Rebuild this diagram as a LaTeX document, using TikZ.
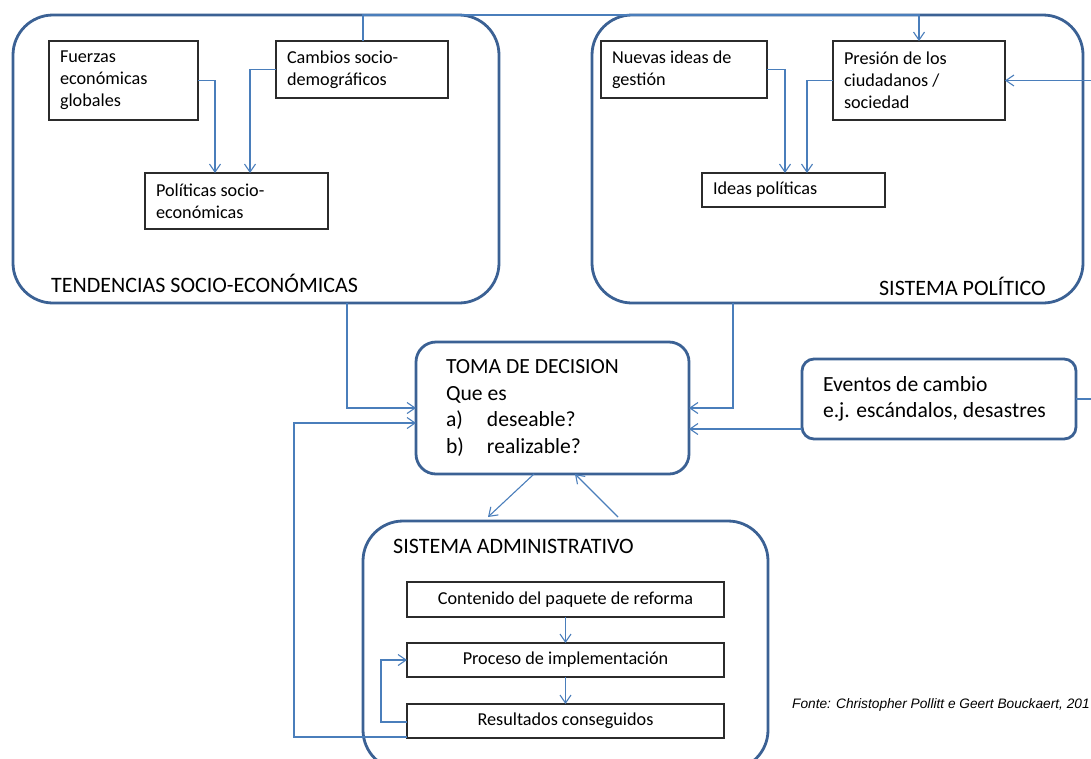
\documentclass[tikz,border=0pt]{standalone}
\usepackage{fontspec}
\setmainfont{Carlito}
\newfontfamily\notefont{Liberation Sans}
\usetikzlibrary{arrows.meta}

\definecolor{frameblue}{HTML}{3B6194}
\definecolor{linkblue}{HTML}{4A7EBB}
\definecolor{boxgray}{HTML}{2B2B2B}

\begin{document}
\begin{tikzpicture}[x=1pt,y=-1pt,
  group/.style={draw=frameblue,line width=2.8pt,rounded corners=40pt,
    anchor=north west,inner sep=0pt,outer sep=0pt},
  itembox/.style={draw=boxgray,line width=1.4pt,anchor=north west,
    inner xsep=11pt,inner ysep=0pt,outer sep=0pt,align=flush left,
    font=\fontsize{18.2}{22}\selectfont},
  stagebox/.style={draw=boxgray,line width=1.4pt,anchor=north west,
    inner sep=0pt,outer sep=0pt,minimum width=317pt,
    font=\fontsize{18.2}{22}\selectfont},
  conn/.style={draw=linkblue,line width=1.1pt,
    -{Straight Barb[length=8pt,width=11pt]}},
  title/.style={font=\fontsize{22}{26}\selectfont,inner sep=0pt}
]
\useasboundingbox (0,0) rectangle (1091,758);
\fill[white] (0,0) rectangle (1091,758);
\clip (0,0) rectangle (1091,758);

% outer groups
\node[group,minimum width=486pt,minimum height=288pt] (tend) at (13,15) {};
\node[group,minimum width=491pt,minimum height=288pt] (pol) at (592,15) {};
\node[group,minimum width=405pt,minimum height=249pt] (admin) at (363,521) {};

\node[group,rounded corners=20pt,minimum width=273pt,minimum height=132pt,
  inner xsep=30pt,text width=213pt,align=flush left,
  font=\fontsize{21.6}{26.7}\selectfont] (toma) at (416,342)
  {TOMA DE DECISION\\Que es\\\makebox[41pt][l]{a)}deseable?\\\makebox[41pt][l]{b)}realizable?};

\node[group,rounded corners=12pt,minimum width=274pt,minimum height=80pt,
  inner xsep=21pt,text width=232pt,align=flush left,
  font=\fontsize{21.6}{26}\selectfont] (evt) at (802,359)
  {Eventos de cambio\\e.j. escándalos, desastres};

% group titles
\node[title,anchor=base west] (ltend) at (51,292) {TENDENCIAS SOCIO-ECONÓMICAS};
\node[title,anchor=base east] (lpol) at (1046,295) {SISTEMA POLÍTICO};
\node[title,anchor=base west] (ladm) at (393,553) {SISTEMA ADMINISTRATIVO};

% socio-economic trends
\node[itembox,text width=127pt,minimum height=79pt] (fuerzas) at (49,41)
  {Fuerzas\\económicas\\globales};
\node[itembox,text width=150pt,minimum height=57pt] (cambios) at (276,41)
  {Cambios socio-\\demográficos};
\node[itembox,text width=161pt,minimum height=56pt] (politicas) at (145,173)
  {Políticas socio-\\económicas};

% political system
\node[itembox,text width=144pt,minimum height=57pt] (nuevas) at (601,41)
  {Nuevas ideas de\\gestión};
\node[itembox,text width=150pt,minimum height=79pt] (presion) at (833,41)
  {Presión de los\\ciudadanos /\\sociedad};
\node[itembox,text width=161pt,minimum height=34pt] (ideas) at (702,173)
  {Ideas políticas};

% administrative system
\node[stagebox,minimum height=35pt] (contenido) at (407,582) {Contenido del paquete de reforma};
\node[stagebox,minimum height=34pt] (proceso) at (407,643) {Proceso de implementación};
\node[stagebox,minimum height=34pt] (resultados) at (407,704) {Resultados conseguidos};

% source note
\node[font=\notefont\itshape\fontsize{13.7}{16}\selectfont,anchor=west,inner sep=0pt]
  (fonte) at (792,705) {Fonte: Christopher Pollitt e Geert Bouckaert, 201};

% connectors
\coordinate (topA) at (363,15);
\coordinate (d1) at (488,517);
\coordinate (d2) at (618,517);
\coordinate (loopA) at (381,722);
\coordinate (loopB) at (294,737);

\draw[conn] (fuerzas.east) -| ([xshift=70pt]politicas.north west);
\draw[conn] (cambios.west) -| ([xshift=105pt]politicas.north west);
\draw[conn] (cambios.north -| topA) -- (topA) -| (presion.north);
\draw[conn] (nuevas.east) -| ([xshift=83pt]ideas.north west);
\draw[conn] (presion.west) -| ([xshift=105pt]ideas.north west);
\draw[conn] (evt.east) -- ++(40,0) |- (presion.east);

\draw[conn] ([xshift=334pt]tend.south west) |- (toma.west);
\draw[conn] ([xshift=141pt]pol.south west) |- (toma.east);
\draw[conn] (evt.west |- 0,429) -- (toma.east |- 0,429);

\draw[conn] (toma.south -| 534,0) -- (d1);
\draw[conn] (d2) -- (toma.south -| 575,0);

\draw[conn] (contenido.south) -- (proceso.north);
\draw[conn] (proceso.south) -- (resultados.north);
\draw[conn] (resultados.west |- loopA) -- (loopA) |- (proceso.west);
\draw[conn] (resultados.west |- loopB) -- (loopB) |- (toma.west |- 0,423);
\end{tikzpicture}
\end{document}
